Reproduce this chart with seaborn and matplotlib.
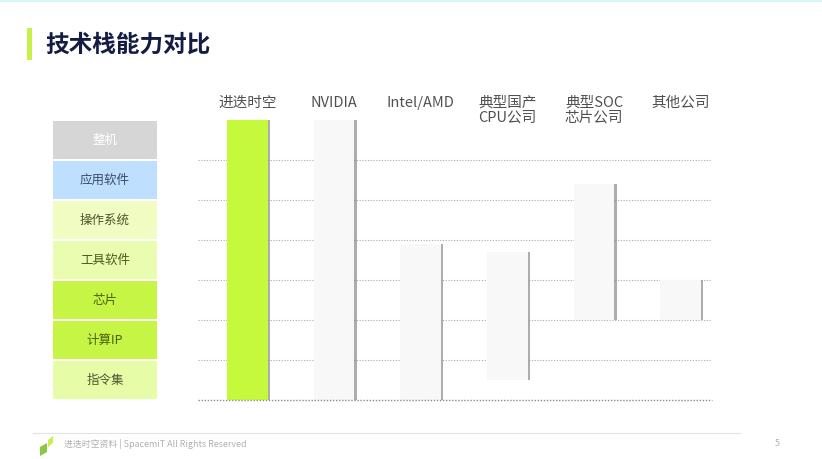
import numpy as np
import pandas as pd
import seaborn as sns
import matplotlib.pyplot as plt
import matplotlib.patheffects as pe
import matplotlib.transforms as mtransforms
from matplotlib.patches import Rectangle, Polygon
from matplotlib.lines import Line2D

# data: which layers of the stack each company covers (0 = 指令集 bottom, 7 = 整机 top)
companies = ['进迭时空', 'NVIDIA', 'Intel/AMD', '典型国产\nCPU公司', '典型SOC\n芯片公司', '其他公司']
stack_bottom = [0, 0, 0, 0.5, 2.0, 2.0]
stack_top = [7, 7, 3.9, 3.7, 5.4, 3.0]
bar_colors = ['#c4f93c', '#f8f8f8', '#f8f8f8', '#f8f8f8', '#f8f8f8', '#f8f8f8']

layers = ['整机', '应用软件', '操作系统', '工具软件', '芯片', '计算IP', '指令集']
layer_colors = ['#d6d6d6', '#bfdfff', '#f0fcc2', '#e9fcb0', '#c6f545', '#c6f545', '#e6fca6']
layer_text = ['#ffffff', '#3a4a6a', '#4a5530', '#4a5a20', '#4a6010', '#4a6010', '#4a5530']

sns.set_theme(style='white')
plt.rcParams['font.family'] = ['Noto Sans CJK SC', 'DejaVu Sans']

W, H = 822, 459
fig = plt.figure(figsize=(W / 100, H / 100), dpi=100)
fig.patch.set_facecolor('white')

def fx(px):
    return px / W

def fy(py):
    return 1 - py / H

# top strip and title
fig.patches.append(Rectangle((0, fy(2)), 1, 2 / H, transform=fig.transFigure,
                             color='#d8f6f6', lw=0))
fig.patches.append(Rectangle((fx(27), fy(60)), 5 / W, 32 / H, transform=fig.transFigure,
                             color='#c8f04a', lw=0))
fig.text(fx(45), fy(45), '技术栈能力对比', fontsize=17, weight='bold',
         color='#141c44', va='center', ha='left')

# main chart
ax_bottom = fy(400)
ax_height = 280 / H
ax = fig.add_axes([fx(198), ax_bottom, fx(712) - fx(198), ax_height])

df = pd.DataFrame({'company': companies,
                   'span': np.array(stack_top) - np.array(stack_bottom),
                   'bottom': stack_bottom})
sns.barplot(data=df, x='company', y='span', hue='company', palette=bar_colors,
            width=0.47, legend=False, ax=ax, saturation=1, edgecolor='none', zorder=3)
for patch, b in zip(ax.patches, df['bottom']):
    patch.set_y(b)
    patch.set_path_effects([pe.SimplePatchShadow(offset=(1.5, 0), shadow_rgbFace='#8a8a8a',
                                                 alpha=0.7), pe.Normal()])

ax.set_ylim(0, 7)
ax.set_xlim(-0.57, 5.36)
ax.set_yticks(range(1, 7))
ax.yaxis.grid(True, linestyle=(0, (1, 1.5)), color='#a8a8a8', linewidth=0.8)
ax.set_axisbelow(True)
ax.set_xlabel('')
ax.set_ylabel('')
ax.set_yticklabels([])
ax.tick_params(length=0)
for side in ['top', 'left', 'right', 'bottom']:
    ax.spines[side].set_visible(False)
ax.axhline(0, color='#8a8a8a', linestyle=(0, (1, 1.2)), linewidth=1.0, zorder=4, clip_on=False)

trans = mtransforms.blended_transform_factory(ax.transData, ax.transAxes)
for xt, name in zip(ax.get_xticks(), companies):
    ax.text(xt, 1 + 24 / 280, name, transform=trans, ha='center', va='top',
            fontsize=10.5, color='#505050', linespacing=1.05)
ax.set_xticklabels([])

# layer boxes on the left
ax_l = fig.add_axes([fx(53), ax_bottom, 104 / W, ax_height])
sns.barplot(x=[1] * len(layers), y=layers, hue=layers, palette=layer_colors, orient='h',
            width=0.93, legend=False, ax=ax_l, saturation=1, edgecolor='none')
ax_l.set_xlim(0, 1)
ax_l.set_ylim(len(layers) - 0.5, -0.5)
ax_l.axis('off')
for i, (name, tc) in enumerate(zip(layers, layer_text)):
    ax_l.text(0.5, i, name, ha='center', va='center', fontsize=9, color=tc)

# footer
fig.add_artist(Line2D([fx(33), fx(740)], [fy(433), fy(433)], transform=fig.transFigure,
                      color='#e2e2e2', lw=0.8))
fig.patches.append(Polygon([(fx(40), fy(447)), (fx(47), fy(443)), (fx(47), fy(452)), (fx(40), fy(456))],
                           closed=True, transform=fig.transFigure, color='#8dc63f', lw=0))
fig.patches.append(Polygon([(fx(48), fy(440)), (fx(53), fy(436)), (fx(53), fy(443)), (fx(48), fy(447))],
                           closed=True, transform=fig.transFigure, color='#c8f04a', lw=0))
fig.text(fx(64), fy(444), '进迭时空资料 | SpacemiT All Rights Reserved', fontsize=6.4,
         color='#b0b0b0', va='center', ha='left')
fig.text(fx(777), fy(444), '5', fontsize=6.4, color='#b0b0b0', va='center', ha='center')

fig.savefig('out.png', dpi=100)
